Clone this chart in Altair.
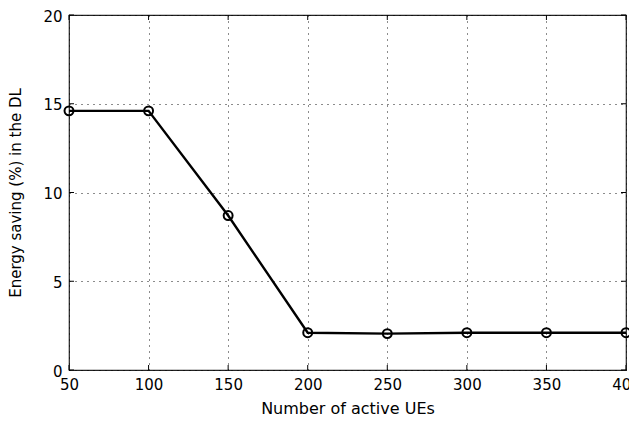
import altair as alt
import pandas as pd

ues = [50, 100, 150, 200, 250, 300, 350, 400]
saving = [14.6, 14.6, 8.7, 2.1, 2.05, 2.1, 2.1, 2.1]
x_ticks = [50, 100, 150, 200, 250, 300, 350, 400]
y_ticks = [0, 5, 10, 15, 20]

W, H = 557, 355
FONT = "DejaVu Sans"

df = pd.DataFrame({"ues": ues, "saving": saving})
xt = pd.DataFrame({"x": x_ticks})
yt = pd.DataFrame({"y": y_ticks})

xs = alt.Scale(domain=[50, 400], nice=False, zero=False)
ys = alt.Scale(domain=[0, 20], nice=False)

xaxis = alt.Axis(values=x_ticks, title="Number of active UEs", grid=True,
                 gridDash=[1, 5], gridColor="#000", gridOpacity=0.9,
                 tickSize=0, domain=False, labelPadding=7, titlePadding=8,
                 labelFlush=False, titleFontSize=16)
yaxis = alt.Axis(values=y_ticks, title="Energy saving (%) in the DL", grid=True,
                 gridDash=[1, 5], gridColor="#000", gridOpacity=0.9,
                 tickSize=0, domain=False, labelPadding=7, titlePadding=19,
                 labelOffset=1, titleFontSize=15)

base = alt.Chart(df)
line = base.mark_line(color="black", strokeWidth=2.4).encode(
    x=alt.X("ues:Q", scale=xs, axis=xaxis),
    y=alt.Y("saving:Q", scale=ys, axis=yaxis),
)
pts = base.mark_point(shape="circle", size=80, filled=False, color="black",
                      strokeWidth=2, opacity=1).encode(
    x=alt.X("ues:Q", scale=xs),
    y=alt.Y("saving:Q", scale=ys),
)

tick_len = 5
xb = alt.Chart(xt).mark_rule(color="black", strokeWidth=1).encode(
    x=alt.X("x:Q", scale=xs), y=alt.value(H - tick_len), y2=alt.value(H))
xtop = alt.Chart(xt).mark_rule(color="black", strokeWidth=1).encode(
    x=alt.X("x:Q", scale=xs), y=alt.value(0), y2=alt.value(tick_len))
yl = alt.Chart(yt).mark_rule(color="black", strokeWidth=1).encode(
    y=alt.Y("y:Q", scale=ys), x=alt.value(0), x2=alt.value(tick_len))
yr = alt.Chart(yt).mark_rule(color="black", strokeWidth=1).encode(
    y=alt.Y("y:Q", scale=ys), x=alt.value(W - tick_len), x2=alt.value(W))

chart = alt.layer(xb, xtop, yl, yr, line, pts).properties(
    width=W, height=H,
    background="white",
    autosize=alt.AutoSizeParams(type="none"),
    padding={"left": 61, "top": 7, "right": 3, "bottom": 46},
).configure_view(
    stroke="#222", strokeWidth=1.2
).configure_axis(
    labelFont=FONT, titleFont=FONT, labelFontSize=15,
    labelColor="#000", titleColor="#000", titleFontWeight="normal",
)

chart.save("out.html", embed_options={"renderer": "svg", "actions": False})
